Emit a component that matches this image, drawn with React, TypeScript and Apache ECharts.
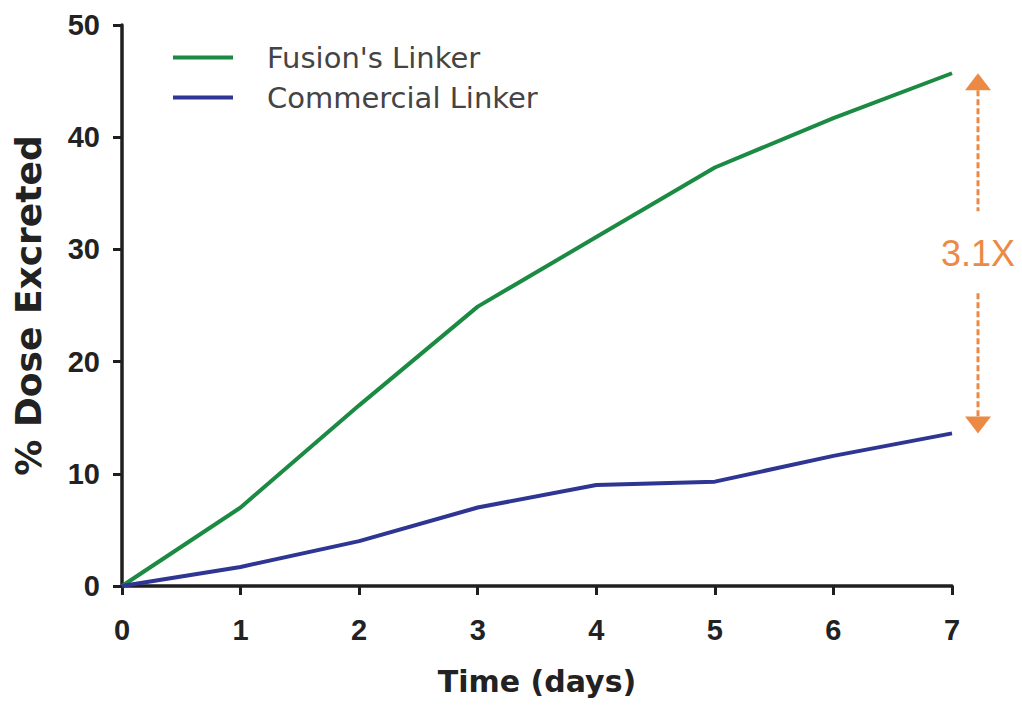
import React, { useEffect, useRef } from "react";
import * as echarts from "echarts";

const days = [0, 1, 2, 3, 4, 5, 6, 7];
const fusionLinker = [0, 7.0, 16.1, 24.9, 31.1, 37.3, 41.7, 45.7];
const commercialLinker = [0, 1.7, 4.0, 7.0, 9.0, 9.3, 11.6, 13.6];
const seriesNames = ["Fusion's Linker", "Commercial Linker"];
const foldLabel = "3.1X";
const xTitle = "Time (days)";
const yTitle = "% Dose Excreted";

const GREEN = "#1b8a42";
const BLUE = "#2e3592";
const ORANGE = "#ec8a45";
const AXIS = "#1f1f1f";
const FONT = "'DejaVu Sans', 'Liberation Sans', Arial, sans-serif";
const TICKFONT = "'Liberation Sans', Arial, sans-serif";

export default function App() {
  const ref = useRef<HTMLDivElement>(null);
  useEffect(() => {
    if (!ref.current) return;
    const chart = echarts.init(ref.current, null, { renderer: "svg" });
    const option: any = {
      animation: false,
      backgroundColor: "#ffffff",
      grid: { left: 122, right: 70, top: 25, bottom: 136, containLabel: false, outerBoundsMode: "none" },
      legend: {
        left: 173,
        top: 43,
        padding: 0,
        orient: "vertical",
        itemWidth: 60,
        itemHeight: 4,
        itemGap: 11,
        icon: "rect",
        textStyle: { fontFamily: FONT, fontSize: 29, color: "#444", padding: [0, 0, 0, 29] },
        data: seriesNames,
      },
      xAxis: {
        type: "value",
        min: 0,
        max: 7,
        interval: 1,
        name: xTitle,
        nameLocation: "middle",
        nameGap: 80,
        nameTextStyle: { fontFamily: FONT, fontSize: 30, fontWeight: "bold", color: "#222" },
        axisLine: { show: true, onZero: true, lineStyle: { color: AXIS, width: 3.5 } },
        axisTick: { show: true, inside: false, length: 9, lineStyle: { color: AXIS, width: 3 } },
        axisLabel: { margin: 29, fontFamily: TICKFONT, fontSize: 29, fontWeight: "bold", color: "#222" },
        splitLine: { show: false },
      },
      yAxis: {
        type: "value",
        min: 0,
        max: 50,
        interval: 10,
        name: yTitle,
        nameLocation: "middle",
        nameGap: 76,
        nameTextStyle: { fontFamily: FONT, fontSize: 36, fontWeight: "bold", color: "#222" },
        axisLine: { show: true, lineStyle: { color: AXIS, width: 3.5 } },
        axisTick: { show: true, inside: false, length: 9, lineStyle: { color: AXIS, width: 3 } },
        axisLabel: { margin: 22, fontFamily: TICKFONT, fontSize: 29, fontWeight: "bold", color: "#222" },
        splitLine: { show: false },
      },
      series: [
        {
          name: seriesNames[0],
          type: "line",
          data: days.map((d, i) => [d, fusionLinker[i]]),
          showSymbol: false,
          symbol: "none",
          lineStyle: { color: GREEN, width: 4 },
          itemStyle: { color: GREEN },
          z: 3,
        },
        {
          name: seriesNames[1],
          type: "line",
          data: days.map((d, i) => [d, commercialLinker[i]]),
          showSymbol: false,
          symbol: "none",
          lineStyle: { color: BLUE, width: 4 },
          itemStyle: { color: BLUE },
          z: 3,
        },
      ],
    };
    chart.setOption(option);

    const last = days.length - 1;
    const top = chart.convertToPixel({ gridIndex: 0 } as any, [days[last], fusionLinker[last]]) as number[];
    const bot = chart.convertToPixel({ gridIndex: 0 } as any, [days[last], commercialLinker[last]]) as number[];
    const ax = top[0] + 26;
    const mid = (top[1] + bot[1]) / 2;
    const head = 17;
    const hw = 13;
    const dash = { stroke: ORANGE, lineWidth: 3, lineDash: [6, 3] };
    chart.setOption({
      graphic: [
        { type: "line", shape: { x1: ax, y1: top[1] + head, x2: ax, y2: mid - 42 }, style: dash },
        { type: "line", shape: { x1: ax, y1: mid + 40, x2: ax, y2: bot[1] - head }, style: dash },
        {
          type: "polygon",
          shape: { points: [[ax, top[1]], [ax - hw, top[1] + head], [ax + hw, top[1] + head]] },
          style: { fill: ORANGE },
        },
        {
          type: "polygon",
          shape: { points: [[ax, bot[1]], [ax - hw, bot[1] - head], [ax + hw, bot[1] - head]] },
          style: { fill: ORANGE },
        },
        {
          type: "text",
          x: ax,
          y: mid,
          style: {
            text: foldLabel,
            fill: ORANGE,
            font: "36px 'Liberation Sans', Arial, sans-serif",
            align: "center",
            verticalAlign: "middle",
          },
        },
      ],
    });
    return () => chart.dispose();
  }, []);
  return <div ref={ref} style={{ position: "fixed", left: 0, top: 0, width: 1022, height: 722 }} />;
}
